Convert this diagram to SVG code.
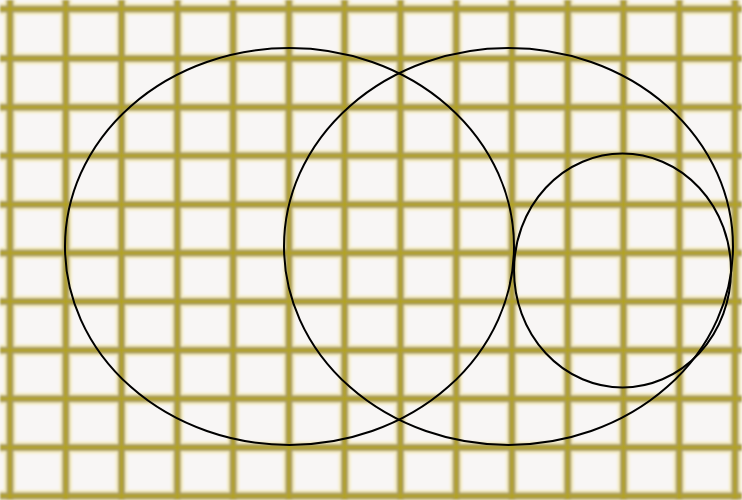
<svg xmlns="http://www.w3.org/2000/svg" width="742" height="500" viewBox="0 0 742 500">
<defs>
<style>
.halo{stroke:#f4ecc4;stroke-width:12;fill:none}
.ln{stroke:#a99c5c;stroke-width:7;fill:none}
.core{stroke:#b3a31e;stroke-width:2.5;fill:none}
.shape{fill:none;stroke:#000;stroke-width:2}
</style>
<filter id="soft" x="-5%" y="-5%" width="110%" height="110%"><feGaussianBlur stdDeviation="0.9"/></filter>
<g id="gridlines">
<path d="M10,0V500M65.8,0V500M121.5,0V500M177.3,0V500M233.1,0V500M288.9,0V500M344.6,0V500M400.4,0V500M456.2,0V500M511.9,0V500M567.7,0V500M623.5,0V500M679.2,0V500M735,0V500M0,9H742M0,58.6H742M0,107.2H742M0,155.8H742M0,204.4H742M0,253H742M0,301.6H742M0,350.2H742M0,398.8H742M0,447.4H742M0,496H742"/>
</g>
</defs>
<rect width="742" height="500" fill="#f8f6f5"/>
<g id="grid" filter="url(#soft)">
<use href="#gridlines" class="halo"/>
<use href="#gridlines" class="ln"/>
<use href="#gridlines" class="core"/>
</g>
<g id="left-ellipse"><ellipse class="shape" cx="289.5" cy="246.5" rx="224.5" ry="198.5"/></g>
<g id="right-ellipse"><ellipse class="shape" cx="508.5" cy="246.5" rx="224.5" ry="198.5"/></g>
<g id="small-ellipse"><ellipse class="shape" cx="622.5" cy="270.5" rx="108.5" ry="117"/></g>
</svg>
